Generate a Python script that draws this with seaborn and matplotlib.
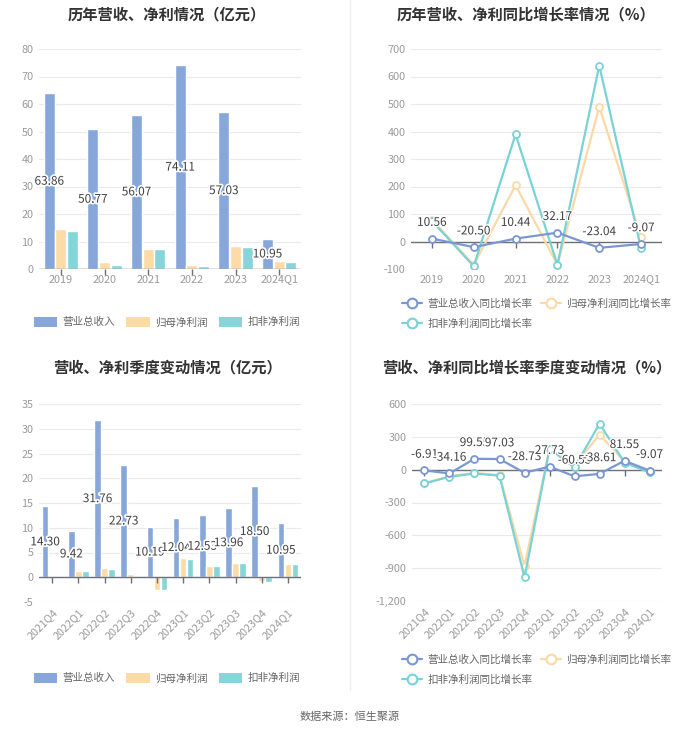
import numpy as np
import pandas as pd
import matplotlib
matplotlib.use("Agg")
import matplotlib.pyplot as plt
import seaborn as sns
from matplotlib.lines import Line2D
from matplotlib.patches import Patch
from matplotlib.ticker import FuncFormatter, MultipleLocator
import matplotlib.patheffects as pe

sns.set_theme(style="white")
plt.rcParams['font.family'] = ['Noto Sans CJK SC', 'DejaVu Sans']
plt.rcParams['axes.unicode_minus'] = False

# ---------------- data ----------------
years = ["2019", "2020", "2021", "2022", "2023", "2024Q1"]
rev_year = [63.86, 50.77, 56.07, 74.11, 57.03, 10.95]
np_year = [14.6, 2.4, 7.4, 1.3, 8.2, 2.9]
dnp_year = [14.0, 1.5, 7.1, 1.1, 7.9, 2.7]

rev_yoy_year = [10.56, -20.50, 10.44, 32.17, -23.04, -9.07]
np_yoy_year = [80, -85, 205, -85, 490, 15]
dnp_yoy_year = [75, -90, 390, -85, 640, -25]

quarters = ["2021Q4", "2022Q1", "2022Q2", "2022Q3", "2022Q4",
            "2023Q1", "2023Q2", "2023Q3", "2023Q4", "2024Q1"]
rev_q = [14.30, 9.42, 31.76, 22.73, 10.19, 12.04, 12.53, 13.96, 18.50, 10.95]
np_q = [-0.1, 1.3, 1.8, 0.6, -2.6, 3.8, 2.3, 2.9, -0.8, 2.7]
dnp_q = [-0.1, 1.2, 1.7, 0.3, -2.6, 3.7, 2.2, 2.8, -0.9, 2.7]

rev_yoy_q = [-6.91, -34.16, 99.55, 97.03, -28.73, 27.73, -60.53, -38.61, 81.55, -9.07]
np_yoy_q = [-125, -60, -30, -50, -880, 190, 40, 320, 75, -15]
dnp_yoy_q = [-125, -65, -35, -55, -985, 190, 20, 420, 65, -25]

bar_names = ["营业总收入", "归母净利润", "扣非净利润"]
line_names = ["营业总收入同比增长率", "归母净利润同比增长率", "扣非净利润同比增长率"]

# ---------------- style ----------------
BAR_COLORS = ["#87A7DB", "#FDDBA6", "#86D5D9"]
LINE_COLORS = ["#7B97D3", "#FBD9A6", "#79D2D5"]
GRID = "#E9E9EE"
TICK = "#9A9A9A"
AXIS = "#6E7079"
TXT = "#404040"

W, H = 700, 734
fig = plt.figure(figsize=(7.0, 7.34), dpi=100)
fig.patch.set_facecolor("white")


def ax_at(x0, y0, x1, y1):
    return fig.add_axes([x0 / W, 1 - y1 / H, (x1 - x0) / W, (y1 - y0) / H])


def style_axes(ax, ylim, step, n, rot=0, fmt=None):
    ax.set_ylim(*ylim)
    ax.set_xlim(-0.5, n - 0.5)
    ax.yaxis.set_major_locator(MultipleLocator(step))
    if fmt:
        ax.yaxis.set_major_formatter(FuncFormatter(fmt))
    ax.grid(axis="y", color=GRID, linewidth=0.8)
    ax.set_axisbelow(True)
    for s in ax.spines.values():
        s.set_visible(False)
    ax.tick_params(axis="both", length=0, labelsize=7.8, labelcolor=TICK, pad=4)
    if rot:
        for lab in ax.get_xticklabels():
            lab.set_rotation(rot)
            lab.set_ha("right")
            lab.set_rotation_mode("anchor")
    ax.set_xlabel("")
    ax.set_ylabel("")
    ax.axhline(0, color=AXIS, linewidth=1.0, zorder=3)
    ax.plot(range(n), [0] * n, linestyle="none", marker=3, markersize=4,
            color=AXIS, markeredgewidth=1.0, zorder=3, clip_on=False)


def bar_panel(ax, cats, vals, ylim, step, rot=0):
    df = pd.DataFrame({
        "cat": np.repeat(cats, 3),
        "series": bar_names * len(cats),
        "value": np.ravel(np.column_stack(vals)),
    })
    sns.barplot(data=df, x="cat", y="value", hue="series", order=cats,
                hue_order=bar_names, palette=BAR_COLORS, width=0.8, gap=0.08,
                saturation=1, legend=False, ax=ax, errorbar=None)
    style_axes(ax, ylim, step, len(cats), rot)
    off = -0.8 / 3
    for i, v in enumerate(vals[0]):
        ax.text(i + off, v / 2, f"{v:.2f}", ha="center", va="center",
                fontsize=8.5, color=TXT, zorder=5,
                path_effects=[pe.withStroke(linewidth=2.5, foreground="white")])


def line_panel(ax, cats, vals, ylim, step, rot=0, fmt=None):
    x = np.arange(len(cats))
    order = [1, 2, 0]
    for k in order:
        sns.lineplot(x=x, y=vals[k], color=LINE_COLORS[k], linewidth=1.6,
                     marker="o", markersize=5, markerfacecolor="white",
                     markeredgecolor=LINE_COLORS[k], markeredgewidth=1.3,
                     ax=ax, zorder=4 + (k == 0))
    ax.set_xticks(x)
    ax.set_xticklabels(cats)
    style_axes(ax, ylim, step, len(cats), rot, fmt)
    for i, v in enumerate(vals[0]):
        ax.annotate(f"{v:.2f}", (i, v), xytext=(0, 7), textcoords="offset points",
                    ha="center", va="bottom", fontsize=8.5, color=TXT, zorder=6,
                    path_effects=[pe.withStroke(linewidth=2.0, foreground="white")])


def bar_legend(cx, cy):
    handles = [Patch(facecolor=c, edgecolor="none") for c in BAR_COLORS]
    fig.legend(handles, bar_names, loc="center", bbox_to_anchor=(cx / W, 1 - cy / H),
               ncol=3, frameon=False, fontsize=7.6, labelcolor="#666666",
               handlelength=2.2, handleheight=1.1, columnspacing=1.1, handletextpad=0.5)


def line_legend(lx, ty):
    handles = [Line2D([0], [0], color=c, linewidth=1.6, marker="o", markersize=7,
                      markerfacecolor="white", markeredgecolor=c, markeredgewidth=1.5)
               for c in LINE_COLORS]
    h = [handles[0], handles[2], handles[1]]
    l = [line_names[0], line_names[2], line_names[1]]
    fig.legend(h, l, loc="upper left", bbox_to_anchor=(lx / W, 1 - ty / H),
               ncol=2, frameon=False, fontsize=7.6, labelcolor="#666666",
               handlelength=1.9, columnspacing=0.8, handletextpad=0.5,
               labelspacing=0.95, borderaxespad=0, borderpad=0.2)


comma = lambda v, p: f"{v:,.0f}"

# top-left
ax1 = ax_at(39, 49, 301, 269)
bar_panel(ax1, years, [rev_year, np_year, dnp_year], (0, 80), 10)
# top-right
ax2 = ax_at(411, 49, 662, 269)
line_panel(ax2, years, [rev_yoy_year, np_yoy_year, dnp_yoy_year], (-100, 700), 100)
# bottom-left
ax3 = ax_at(39, 404, 301, 602)
bar_panel(ax3, quarters, [rev_q, np_q, dnp_q], (-5, 35), 5, rot=45)
# bottom-right
ax4 = ax_at(412, 404, 662, 601)
line_panel(ax4, quarters, [rev_yoy_q, np_yoy_q, dnp_yoy_q], (-1200, 600), 300, rot=45, fmt=comma)

# titles
tkw = dict(ha="center", va="center", fontsize=11, fontweight="bold", color="#333333")
fig.text(167 / W, 1 - 14 / H, "历年营收、净利情况（亿元）", **tkw)
fig.text(526 / W, 1 - 14 / H, "历年营收、净利同比增长率情况（%）", **tkw)
fig.text(167 / W, 1 - 367 / H, "营收、净利季度变动情况（亿元）", **tkw)
fig.text(527 / W, 1 - 367 / H, "营收、净利同比增长率季度变动情况（%）", **tkw)

# legends
bar_legend(167, 322)
line_legend(400, 296)
bar_legend(167, 678)
line_legend(400, 652)

# separator
fig.add_artist(Line2D([350 / W, 350 / W], [1 - 0 / H, 1 - 690 / H],
                      color="#F0F0F0", linewidth=1.0))

fig.text(350 / W, 1 - 717 / H, "数据来源：恒生聚源", ha="center", va="center",
         fontsize=8, color="#666666")

fig.savefig("out.png", dpi=100, facecolor="white")
